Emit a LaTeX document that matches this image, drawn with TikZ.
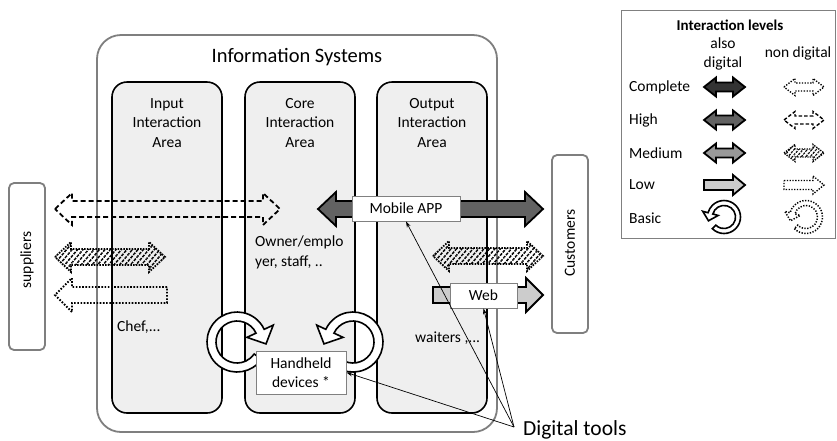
\documentclass[tikz,border=0pt]{standalone}
\usepackage{fontspec}
\setmainfont{Carlito}
\usetikzlibrary{patterns.meta,arrows.meta}
\definecolor{cComplete}{HTML}{333333}
\definecolor{cHigh}{HTML}{626262}
\definecolor{cMed}{HTML}{999999}
\definecolor{cLow}{HTML}{CCCCCC}
\definecolor{colfill}{HTML}{EFEFEF}
\definecolor{boxgray}{HTML}{7F7F7F}
% double arrow: [style]{x tail/tip left}{x tip right}{y}{shaft half}{head half}{head length}
\newcommand{\DblArrow}[7][]{%
  \pgfmathsetmacro\xaL{#2+#7}\pgfmathsetmacro\xbL{#3-#7}%
  \pgfmathsetmacro\yhT{#4-#5}\pgfmathsetmacro\yhB{#4+#5}%
  \pgfmathsetmacro\yHT{#4-#6}\pgfmathsetmacro\yHB{#4+#6}%
  \draw[#1] (#2,#4) -- (\xaL,\yHT) -- (\xaL,\yhT) -- (\xbL,\yhT) -- (\xbL,\yHT) -- (#3,#4)
    -- (\xbL,\yHB) -- (\xbL,\yhB) -- (\xaL,\yhB) -- (\xaL,\yHB) -- cycle;}
\newcommand{\RArrow}[7][]{%
  \pgfmathsetmacro\xbL{#3-#7}%
  \pgfmathsetmacro\yhT{#4-#5}\pgfmathsetmacro\yhB{#4+#5}%
  \pgfmathsetmacro\yHT{#4-#6}\pgfmathsetmacro\yHB{#4+#6}%
  \draw[#1] (#2,\yhT) -- (\xbL,\yhT) -- (\xbL,\yHT) -- (#3,#4)
    -- (\xbL,\yHB) -- (\xbL,\yhB) -- (#2,\yhB) -- cycle;}
\newcommand{\LArrow}[7][]{%
  \pgfmathsetmacro\xaL{#2+#7}%
  \pgfmathsetmacro\yhT{#4-#5}\pgfmathsetmacro\yhB{#4+#5}%
  \pgfmathsetmacro\yHT{#4-#6}\pgfmathsetmacro\yHB{#4+#6}%
  \draw[#1] (#3,\yhT) -- (\xaL,\yhT) -- (\xaL,\yHT) -- (#2,#4)
    -- (\xaL,\yHB) -- (\xaL,\yhB) -- (#3,\yhB) -- cycle;}
% circular arrow (y up, centred at origin)
\newcommand{\RingArrow}[1]{%
  \draw[#1] (-35:30) arc[start angle=-35, end angle=-335, radius=30] -- (25:40) -- (29,-1.9)
    -- (25:11) -- (25:21) arc[start angle=-335, end angle=-35, radius=21] -- cycle;}
\begin{document}
\begin{tikzpicture}[x=1pt,y=-1pt,
  every node/.style={font=\fontsize{15.5}{19.5}\selectfont, inner sep=0pt},
  outerbox/.style={draw=boxgray, line width=1.8pt, fill=white, rounded corners=24pt},
  sidebox/.style={draw=boxgray, line width=1.8pt, fill=white, rounded corners=5pt},
  colbox/.style={draw=black, line width=1.6pt, fill=colfill, rounded corners=15pt},
  toolbox/.style={draw=gray, line width=0.9pt, fill=white},
  dig/.style={draw=black, line width=1.8pt, line join=miter},
  ndashed/.style={draw=black, line width=1.8pt, dash pattern=on 5pt off 3pt},
  ndotted/.style={draw=black, line width=1.8pt, dash pattern=on 1.6pt off 1.6pt},
  nhatch/.style={draw=black, line width=1.8pt, dash pattern=on 1.5pt off 1.3pt,
     pattern={Lines[angle=50,distance=4.2pt,line width=1.5pt]}},
  sdashed/.style={draw=black, line width=1.4pt, dash pattern=on 3.5pt off 2pt},
  sdotted/.style={draw=black, line width=1.4pt, dash pattern=on 1.3pt off 1.5pt},
  shatch/.style={draw=black, line width=1.4pt, dash pattern=on 1.3pt off 1.2pt,
     pattern={Lines[angle=50,distance=3.4pt,line width=1.2pt]}},
  ring/.style={draw=black, line width=1.6pt, fill=white, line join=miter},
  ndring/.style={draw=black, line width=1.5pt, dash pattern=on 1.3pt off 1.5pt},
  tool/.style={draw=black, line width=0.7pt, -{Stealth[length=6pt,width=4pt]}}]
\useasboundingbox (0,0) rectangle (837,440);
\fill[white] (0,0) rectangle (837,440);

% outer information systems box
\node[outerbox, minimum width=400pt, minimum height=397pt] (is) at (297,233.5) {};
\node[font=\fontsize{20.5}{24}\selectfont] (title) at (297,57) {Information Systems};

% suppliers / customers
\node[sidebox, minimum width=36pt, minimum height=167pt] (sup) at (27,266.5) {};
\node[rotate=90] (suplab) at (27,260) {suppliers};
\node[sidebox, minimum width=36pt, minimum height=178pt] (cus) at (570,244) {};
\node[rotate=90] (cuslab) at (570,243) {Customers};

% interaction area columns
\node[colbox, minimum width=110pt, minimum height=331pt] (incol) at (167,247.5) {};
\node[colbox, minimum width=110pt, minimum height=331pt] (corecol) at (300,247.5) {};
\node[colbox, minimum width=110pt, minimum height=331pt] (outcol) at (432,247.5) {};
\node[align=center] (inlab) at (167,123) {Input\\Interaction\\Area};
\node[align=center] (corelab) at (300,123) {Core\\Interaction\\Area};
\node[align=center] (outlab) at (432,123) {Output\\Interaction\\Area};

% arrows
\DblArrow[ndashed]{55}{280}{209}{8}{16}{17}
\DblArrow[nhatch]{55}{165}{257}{8}{15}{16}
\LArrow[ndotted]{55}{167}{295}{8}{17}{17}
\DblArrow[dig, fill=cHigh]{318}{543}{209}{8}{17}{18}
\DblArrow[nhatch]{433}{543}{256}{8}{15}{16}
\RArrow[dig, fill=cLow]{433}{543}{295}{8}{17}{17}

% circular arrows
\begin{scope}[shift={(237,342)}, y=1pt]
  \RingArrow{ring}
\end{scope}
\begin{scope}[shift={(353,342)}, y=1pt, xscale=-1]
  \RingArrow{ring}
\end{scope}

% tool boxes
\node[toolbox, minimum width=108pt, minimum height=25pt] (app) at (406,208.5) {Mobile APP};
\node[toolbox, minimum width=67pt, minimum height=25pt] (web) at (483.5,295.5) {Web};
\node[toolbox, minimum width=90pt, minimum height=43pt, align=center] (hh) at (301,372.5) {Handheld\\devices *};

% actor labels
\node[anchor=west] (chef) at (117,327) {Chef,...};
\node[anchor=west, align=left] (owner) at (255,252.5) {Owner/emplo\\yer, staff, ..};
\node[anchor=west] (waiters) at (415,338) {waiters ,...};

% digital tools
\node[anchor=base west, font=\fontsize{21.5}{24}\selectfont] (dtlab) at (523,435) {Digital tools};
\coordinate (dt) at (514,427);
\draw[tool] (dt) -- (app.south);
\draw[tool] (dt) -- (web.south);
\draw[tool] (dt) -- (hh.east);

% legend
\node[draw=gray, line width=0.9pt, minimum width=214pt, minimum height=228pt] (legend) at (728,124) {};
\node[font=\bfseries\fontsize{15}{18}\selectfont] (legtitle) at (730,25) {Interaction levels};
\node[align=center] (legdig) at (723,54) {also\\digital};
\node (legnd) at (798,53) {non digital};
\node[anchor=west] (lc) at (629,87) {Complete};
\node[anchor=west] (lh) at (629,120) {High};
\node[anchor=west] (lm) at (629,153) {Medium};
\node[anchor=west] (ll) at (629,185) {Low};
\node[anchor=west] (lb) at (629,218) {Basic};
\DblArrow[dig, fill=cComplete]{704}{745}{87}{4.5}{9.5}{12}
\DblArrow[dig, fill=cHigh]{704}{745}{120}{4.5}{9.5}{12}
\DblArrow[dig, fill=cMed]{704}{745}{153}{4.5}{9.5}{12}
\RArrow[dig, fill=cLow]{704}{745}{185}{5}{10}{12}
\DblArrow[sdotted]{784}{824}{87}{4}{8.5}{11}
\DblArrow[sdashed]{784}{824}{120}{4}{8.5}{11}
\DblArrow[shatch]{784}{824}{153}{4}{8.5}{11}
\RArrow[sdotted]{784}{824}{185}{4.5}{9}{11}
\begin{scope}[shift={(724,217)}, y=1pt, xscale=-0.55, yscale=0.55, rotate=-10]
  \RingArrow{ring}
\end{scope}
\begin{scope}[shift={(806,217)}, y=1pt, xscale=-0.55, yscale=0.55, rotate=-10]
  \RingArrow{ndring}
\end{scope}
\end{tikzpicture}
\end{document}
